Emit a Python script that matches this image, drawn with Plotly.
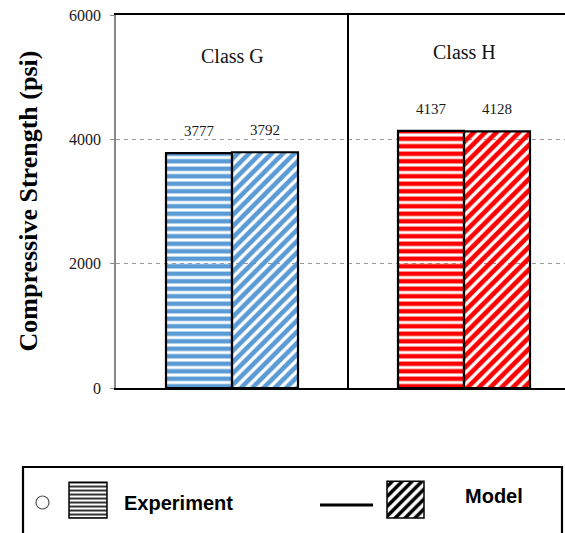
import plotly.graph_objects as go

# Compressive strength of cement classes: measured vs. modelled
classes = ["Class G", "Class H"]
experiment = [3777, 4137]
model = [3792, 4128]
class_colors = ["#5B9BD5", "#FF0000"]
y_ticks = [0, 2000, 4000, 6000]

W, H = 565, 533
PLOT_L, PLOT_T, PLOT_B = 116, 15, 388

SERIF = "Liberation Serif, Times New Roman, serif"
SANS = "Liberation Sans, Arial, sans-serif"


def px(x):
    return x / W


def py(y):
    return (H - y) / H


fig = go.Figure()

fig.add_trace(go.Bar(
    name="Experiment", x=classes, y=experiment,
    marker=dict(
        color=class_colors,
        line=dict(color="black", width=2.2),
        pattern=dict(shape="-", fgcolor=class_colors, bgcolor="white",
                     size=7.5, solidity=0.6, fillmode="replace"),
    ),
    showlegend=False, hoverinfo="skip",
))
fig.add_trace(go.Bar(
    name="Model", x=classes, y=model,
    marker=dict(
        color=class_colors,
        line=dict(color="black", width=2.2),
        pattern=dict(shape="/", fgcolor=class_colors, bgcolor="white",
                     size=8, solidity=0.58, fillmode="replace"),
    ),
    showlegend=False, hoverinfo="skip",
))

# Legend swatches drawn on an auxiliary pixel-scaled axis pair
fig.add_trace(go.Bar(
    x=[88, 405.5], y=[36, 37], base=[15, 15], width=[38, 37],
    xaxis="x2", yaxis="y2",
    marker=dict(
        color="black",
        line=dict(color="black", width=1.5),
        pattern=dict(shape=["-", "/"], fgcolor="black", bgcolor="white",
                     size=[4, 7], solidity=[0.4, 0.5], fillmode="replace"),
    ),
    showlegend=False, hoverinfo="skip",
))

annotations = []
# value labels above each bar
for values, shift in ((experiment, -33), (model, 33)):
    for cls, v in zip(classes, values):
        annotations.append(dict(
            x=cls, y=v, xref="x", yref="y", xshift=shift, yshift=22,
            text=str(v), showarrow=False, yanchor="middle",
            font=dict(family=SERIF, size=15, color="#1a1a1a"),
        ))
# class headers
for cls, yv in zip(classes, (5340, 5400)):
    annotations.append(dict(
        x=cls, y=yv, xref="x", yref="y", text=cls, showarrow=False,
        font=dict(family=SERIF, size=20, color="#111"),
    ))
# y axis title
annotations.append(dict(
    x=px(28), y=py((PLOT_T + PLOT_B) / 2), xref="paper", yref="paper",
    text="Compressive Strength (psi)", textangle=-90, showarrow=False,
    xanchor="center", yanchor="middle",
    font=dict(family=SERIF, size=26, color="black", weight=700),
))
# legend labels
annotations.append(dict(
    x=px(122), y=py(503), xref="paper", yref="paper", text="Experiment",
    showarrow=False, xanchor="left", yanchor="middle",
    font=dict(family=SANS, size=20, color="black", weight=700),
))
annotations.append(dict(
    x=px(463), y=py(496), xref="paper", yref="paper", text="Model",
    showarrow=False, xanchor="left", yanchor="middle",
    font=dict(family=SANS, size=20, color="black", weight=700),
))

shapes = [
    # divider between the two classes
    dict(type="line", xref="x", yref="y", x0=0.5, x1=0.5, y0=0, y1=6000,
         line=dict(color="black", width=2), layer="above"),
    # legend frame
    dict(type="rect", xref="paper", yref="paper",
         x0=px(23), x1=px(562), y0=py(467), y1=py(540),
         line=dict(color="black", width=2.2), fillcolor="rgba(0,0,0,0)"),
    # legend marker circle
    dict(type="circle", xref="paper", yref="paper",
         x0=px(36), x1=px(49), y0=py(496), y1=py(509),
         line=dict(color="#555", width=1.2)),
    # legend line sample
    dict(type="line", xref="paper", yref="paper",
         x0=px(320), x1=px(373), y0=py(505), y1=py(505),
         line=dict(color="black", width=3)),
]

fig.update_layout(
    width=W, height=H,
    margin=dict(l=0, r=0, t=0, b=0, autoexpand=False),
    paper_bgcolor="white", plot_bgcolor="white",
    barmode="group", bargap=0.431, bargroupgap=0,
    annotations=annotations, shapes=shapes,
    xaxis=dict(
        domain=[px(PLOT_L), 1], type="category",
        range=[-0.5, -0.5 + (W - PLOT_L) / 232],
        showticklabels=False, ticks="", showgrid=False, zeroline=False,
        showline=True, linecolor="black", linewidth=2, mirror=True,
        fixedrange=True, automargin=False,
    ),
    yaxis=dict(
        domain=[py(PLOT_B), py(PLOT_T)], range=[0, 6000],
        tickvals=y_ticks, ticktext=[str(t) for t in y_ticks],
        ticks="outside", ticklen=4, tickcolor="#888", tickwidth=1,
        tickfont=dict(family=SERIF, size=16, color="#1a1a1a"),
        ticklabelstandoff=6,
        showline=True, linecolor="#888", linewidth=1.5,
        showgrid=True, gridcolor="#999", gridwidth=1, griddash="4px,4px",
        zeroline=False, fixedrange=True, automargin=False,
    ),
    xaxis2=dict(domain=[0, 1], range=[0, W], visible=False,
                anchor="y2", fixedrange=True, automargin=False),
    yaxis2=dict(domain=[0, py(PLOT_B) - 0.001], range=[0, H - PLOT_B],
                visible=False, anchor="x2", fixedrange=True, automargin=False),
)

fig.write_html("out.html")
